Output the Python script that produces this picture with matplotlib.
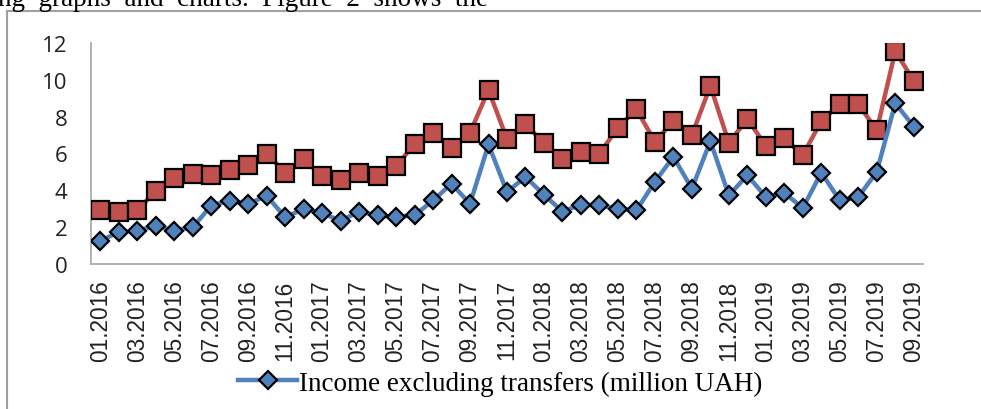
import matplotlib.pyplot as plt
from matplotlib.lines import Line2D

# monthly data, 01.2016 - 09.2019 (million UAH)
months = [f"{m:02d}.{y}" for y in range(2016, 2020) for m in range(1, 13)][:45]

income_excl_transfers = [
    1.27, 1.72, 1.81, 2.08, 1.81, 1.99, 3.17, 3.44, 3.26, 3.71, 2.54, 2.99,
    2.77, 2.34, 2.85, 2.64, 2.55, 2.64, 3.45, 4.36, 3.27, 6.49, 3.91, 4.73,
    3.76, 2.85, 3.22, 3.18, 3.00, 2.91, 4.47, 5.82, 4.09, 6.67, 3.73, 4.82,
    3.64, 3.86, 3.04, 4.96, 3.45, 3.64, 5.00, 8.73, 7.46,
]
income_total = [
    2.95, 2.82, 2.91, 3.97, 4.67, 4.87, 4.82, 5.09, 5.40, 6.00, 4.96, 5.69,
    4.76, 4.56, 4.96, 4.76, 5.33, 6.49, 7.13, 6.31, 7.13, 9.45, 6.78, 7.60,
    6.55, 5.69, 6.06, 6.00, 7.40, 8.40, 6.64, 7.76, 7.00, 9.67, 6.58, 7.87,
    6.42, 6.82, 5.91, 7.76, 8.67, 8.67, 7.27, 11.55, 9.95,
]
y_ticks = [0, 2, 4, 6, 8, 10, 12]

BLUE = "#4F81BD"
RED = "#C0504D"

fig = plt.figure(figsize=(9.81, 4.10), dpi=100)
ax = fig.add_axes([91 / 981, 1 - 265 / 410, (923 - 91) / 981, (265 - 44) / 410])

x = list(range(len(months)))
ax.plot(x, income_total, color=RED, linewidth=3.2, marker="s", markersize=13,
        markerfacecolor=RED, markeredgecolor="black", markeredgewidth=1.6,
        label="Total income (million UAH)", zorder=3)
ax.plot(x, income_excl_transfers, color=BLUE, linewidth=3.2, marker="D",
        markersize=9, markerfacecolor=BLUE, markeredgecolor="black",
        markeredgewidth=1.6, label="Income excluding transfers (million UAH)",
        zorder=4)

ax.set_xlim(-0.5, len(months) - 0.5)
ax.set_ylim(0, 12)
ax.set_yticks(y_ticks)
ax.set_xticks(x[::2])
ax.set_xticklabels(months[::2], rotation=90, fontfamily="Liberation Sans",
                   fontsize=16.3, color="#222222")
ax.set_yticklabels([str(v) for v in y_ticks], fontfamily="Open Sans",
                   fontsize=16, color="#222222")
ax.tick_params(length=0)
ax.tick_params(axis="y", pad=17)
ax.tick_params(axis="x", pad=11)

for side in ["top", "right"]:
    ax.spines[side].set_visible(False)
for side in ["left", "bottom"]:
    ax.spines[side].set_color("#A6A6A6")
    ax.spines[side].set_linewidth(1.2)

# only the first legend entry is visible in the cropped figure
blue_handle = ax.get_lines()[1]
fig.legend(handles=[blue_handle], loc="center", bbox_to_anchor=(500 / 981, 1 - 384 / 410),
           frameon=False, prop={"family": "Liberation Serif", "size": 19.5},
           handlelength=2.2, handletextpad=0.05, borderpad=0, borderaxespad=0)

# outer frame of the chart (cropped on right and bottom)
fig.add_artist(Line2D([7 / 981, 1], [1 - 12 / 410, 1 - 12 / 410],
                      color="#A0A0A0", linewidth=1.5, transform=fig.transFigure))
fig.add_artist(Line2D([7 / 981, 7 / 981], [0, 1 - 12 / 410],
                      color="#A0A0A0", linewidth=1.5, transform=fig.transFigure))

# cropped line of body text above the chart
fig.text(-0.002, 1 - 6 / 410, "ng  graphs  and  charts.  Figure  2  shows  the",
         family="Liberation Serif", fontsize=19.5, va="baseline", ha="left")

fig.savefig("out.png", dpi=100)
